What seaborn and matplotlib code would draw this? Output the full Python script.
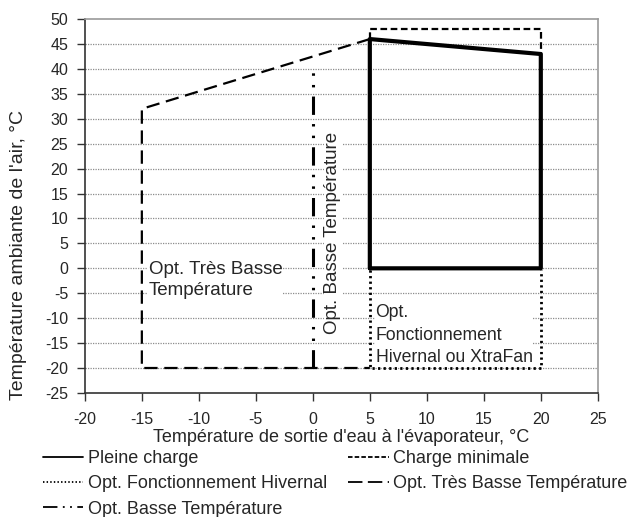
import matplotlib
matplotlib.use("Agg")
import matplotlib.pyplot as plt
from matplotlib.lines import Line2D
import seaborn as sns
import pandas as pd

# Operating envelope outlines (water outlet temp °C, ambient air temp °C)
pleine_x = [5, 5, 20, 20, 5]
pleine_y = [0, 46, 43, 0, 0]

charge_min_x = [5, 5, 20, 20]
charge_min_y = [46, 48, 48, 43]

hivernal_x = [5, 5, 20, 20]
hivernal_y = [-0.4, -20, -20, -0.4]

tres_basse_x = [5, -15, -15, 5]
tres_basse_y = [46, 32, -20, -20]

basse_x = [0, 0]
basse_y = [-20, 41]

labels = [
    "Pleine charge",
    "Charge minimale",
    "Opt. Fonctionnement Hivernal",
    "Opt. Très Basse Température",
    "Opt. Basse Température",
]

x_ticks = list(range(-20, 26, 5))
y_ticks = list(range(-25, 51, 5))

sns.set_style("ticks")
plt.rcParams["font.family"] = ["Liberation Sans", "DejaVu Sans"]
plt.rcParams["axes.unicode_minus"] = False

fig = plt.figure(figsize=(6.38, 5.17), dpi=100)
ax = fig.add_axes([0.133, 0.240, 0.804, 0.723])

# dotted horizontal grid
for yv in range(-20, 50, 5):
    ax.axhline(yv, color="#8c8c8c", lw=0.9, ls=(0, (1, 1)), zorder=0)

styles = {
    "Pleine charge": dict(lw=3.0, ls="-"),
    "Charge minimale": dict(lw=1.6, ls=(0, (3, 1.6))),
    "Opt. Fonctionnement Hivernal": dict(lw=2.0, ls=(0, (0.8, 1.2))),
    "Opt. Très Basse Température": dict(lw=1.6, ls=(0, (6, 3))),
    "Opt. Basse Température": dict(lw=2.2, ls=(0, (6, 3, 0.8, 3, 0.8, 3))),
}
series = {
    "Pleine charge": (pleine_x, pleine_y),
    "Charge minimale": (charge_min_x, charge_min_y),
    "Opt. Fonctionnement Hivernal": (hivernal_x, hivernal_y),
    "Opt. Très Basse Température": (tres_basse_x, tres_basse_y),
    "Opt. Basse Température": (basse_x, basse_y),
}
order = ["Opt. Très Basse Température", "Opt. Basse Température",
         "Opt. Fonctionnement Hivernal", "Charge minimale", "Pleine charge"]
for name in order:
    xs, ys = series[name]
    df = pd.DataFrame({"x": xs, "y": ys})
    sns.lineplot(data=df, x="x", y="y", sort=False, estimator=None,
                 color="black", ax=ax, zorder=3,
                 linewidth=styles[name]["lw"], linestyle=styles[name]["ls"])

box = dict(facecolor="white", edgecolor="none", pad=0.5)
ax.text(-14.4, -2.3, "Opt. Très Basse\nTempérature", fontsize=13.5,
        ha="left", va="center", linespacing=1.3, bbox=box, zorder=2)
ax.text(1.75, 7.1, "Opt. Basse Température", fontsize=13.5, rotation=90,
        ha="center", va="center", bbox=box, zorder=2)
ax.text(5.5, -13.4, "Opt.\nFonctionnement\nHivernal ou XtraFan", fontsize=12.7,
        ha="left", va="center", linespacing=1.45, bbox=box, zorder=2)

ax.set_xlim(-20, 25)
ax.set_ylim(-25, 50)
ax.set_xticks(x_ticks)
ax.set_yticks(y_ticks)
ax.tick_params(axis="both", direction="out", length=6, width=1,
               color="#333333", labelsize=11.5)
ax.tick_params(axis="x", pad=8)
ax.tick_params(axis="y", pad=6)

for side in ["top", "right"]:
    ax.spines[side].set_color("#9a9a9a")
    ax.spines[side].set_linewidth(1.2)
for side in ["left", "bottom"]:
    ax.spines[side].set_color("#333333")
    ax.spines[side].set_linewidth(1.2)

ax.set_xlabel("Température de sortie d'eau à l'évaporateur, °C", fontsize=13)
ax.xaxis.label.set_va("center")
ax.xaxis.set_label_coords(0.5, -0.118)
ax.set_ylabel("Température ambiante de l'air, °C", fontsize=14)
ax.yaxis.label.set_va("center")
ax.yaxis.set_label_coords(-0.13, 0.369)

handles = {
    name: Line2D([], [], color="black", lw=1.3,
                 ls={"Pleine charge": "-",
                     "Charge minimale": (0, (2.5, 1.2)),
                     "Opt. Fonctionnement Hivernal": (0, (0.8, 1.2)),
                     "Opt. Très Basse Température": (0, (8, 3)),
                     "Opt. Basse Température": (0, (8, 3, 1, 3, 1, 3))}[name])
    for name in labels
}
leg_order = ["Pleine charge", "Opt. Fonctionnement Hivernal",
             "Opt. Basse Température", "Charge minimale",
             "Opt. Très Basse Température"]
fig.legend([handles[n] for n in leg_order], leg_order, ncol=2,
           loc="upper left", bbox_to_anchor=(0.067, 0.129),
           frameon=False, fontsize=13, handlelength=2.25,
           handletextpad=0.25, columnspacing=1.15, labelspacing=0.45,
           borderaxespad=0, borderpad=0)

fig.savefig("out.png", dpi=100)
